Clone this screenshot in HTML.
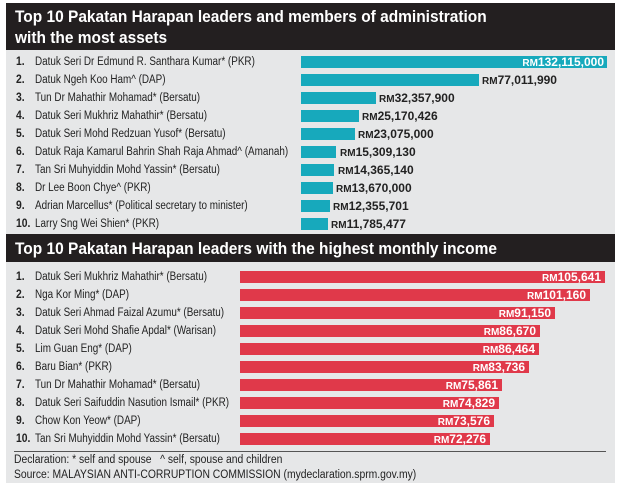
<!DOCTYPE html>
<html><head><meta charset="utf-8"><style>
*{margin:0;padding:0;box-sizing:border-box}
body{width:620px;height:487px;background:#fff;position:relative;overflow:hidden;font-family:"Liberation Sans",sans-serif;color:#222}
.bg{position:absolute;left:6px;top:3px;width:609px;height:480px;background:#e6e7e8}
.hd{position:absolute;left:6px;width:609px;background:#231f20;color:#fff;font-weight:bold;font-size:17px;line-height:21px;padding-left:9px}
.hd span{display:inline-block;transform:scaleX(.91);transform-origin:left;white-space:nowrap}
.r{position:absolute;left:0;height:18px;font-size:11.5px;line-height:18px;width:620px}
.n{position:absolute;left:16px;font-weight:bold;transform:scaleX(.9);transform-origin:left}
.t{position:absolute;left:35px;white-space:nowrap;transform:scaleX(.86);transform-origin:left}
.b{position:absolute;top:3px;height:12px}
.tb{background:#17a9bc}
.rb{background:#e0394a}
.v{position:absolute;top:0;font-weight:bold;font-size:12px;white-space:nowrap}
.v small{font-size:10px;font-weight:bold}
.in{color:#fff;text-align:right}
.f{position:absolute;left:14px;font-size:11.5px;white-space:nowrap;transform:scaleX(.9);transform-origin:left}
</style></head><body>
<div class="bg"></div>
<div class="hd" style="top:3px;height:47px;padding-top:3px"><span>Top 10 Pakatan Harapan leaders and members of administration</span><br><span>with the most assets</span></div>

<div class="r" style="top:53px"><span class="n">1.</span><span class="t">Datuk Seri Dr Edmund R. Santhara Kumar* (PKR)</span><div class="b tb" style="left:301px;width:306px"></div><span class="v in" style="left:301px;width:303px"><small>RM</small>132,115,000</span></div>
<div class="r" style="top:71px"><span class="n">2.</span><span class="t">Datuk Ngeh Koo Ham^ (DAP)</span><div class="b tb" style="left:301px;width:178px"></div><span class="v" style="left:482px"><small>RM</small>77,011,990</span></div>
<div class="r" style="top:89px"><span class="n">3.</span><span class="t">Tun Dr Mahathir Mohamad* (Bersatu)</span><div class="b tb" style="left:301px;width:75px"></div><span class="v" style="left:379px"><small>RM</small>32,357,900</span></div>
<div class="r" style="top:107px"><span class="n">4.</span><span class="t">Datuk Seri Mukhriz Mahathir* (Bersatu)</span><div class="b tb" style="left:301px;width:58px"></div><span class="v" style="left:362px"><small>RM</small>25,170,426</span></div>
<div class="r" style="top:125px"><span class="n">5.</span><span class="t">Datuk Seri Mohd Redzuan Yusof* (Bersatu)</span><div class="b tb" style="left:301px;width:54px"></div><span class="v" style="left:358px"><small>RM</small>23,075,000</span></div>
<div class="r" style="top:143px"><span class="n">6.</span><span class="t">Datuk Raja Kamarul Bahrin Shah Raja Ahmad^ (Amanah)</span><div class="b tb" style="left:301px;width:35px"></div><span class="v" style="left:340px"><small>RM</small>15,309,130</span></div>
<div class="r" style="top:161px"><span class="n">7.</span><span class="t">Tan Sri Muhyiddin Mohd Yassin* (Bersatu)</span><div class="b tb" style="left:301px;width:33px"></div><span class="v" style="left:338px"><small>RM</small>14,365,140</span></div>
<div class="r" style="top:179px"><span class="n">8.</span><span class="t">Dr Lee Boon Chye^ (PKR)</span><div class="b tb" style="left:301px;width:32px"></div><span class="v" style="left:336px"><small>RM</small>13,670,000</span></div>
<div class="r" style="top:197px"><span class="n">9.</span><span class="t">Adrian Marcellus* (Political secretary to minister)</span><div class="b tb" style="left:301px;width:29px"></div><span class="v" style="left:333px"><small>RM</small>12,355,701</span></div>
<div class="r" style="top:215px"><span class="n">10.</span><span class="t">Larry Sng Wei Shien* (PKR)</span><div class="b tb" style="left:301px;width:27px"></div><span class="v" style="left:331px"><small>RM</small>11,785,477</span></div>

<div class="hd" style="top:234px;height:28px;padding-top:4px"><span>Top 10 Pakatan Harapan leaders with the highest monthly income</span></div>

<div class="r" style="top:268px"><span class="n">1.</span><span class="t">Datuk Seri Mukhriz Mahathir* (Bersatu)</span><div class="b rb" style="left:240px;width:365px"></div><span class="v in" style="left:240px;width:361px"><small>RM</small>105,641</span></div>
<div class="r" style="top:286px"><span class="n">2.</span><span class="t">Nga Kor Ming* (DAP)</span><div class="b rb" style="left:240px;width:350px"></div><span class="v in" style="left:240px;width:346px"><small>RM</small>101,160</span></div>
<div class="r" style="top:304px"><span class="n">3.</span><span class="t">Datuk Seri Ahmad Faizal Azumu* (Bersatu)</span><div class="b rb" style="left:240px;width:315px"></div><span class="v in" style="left:240px;width:311px"><small>RM</small>91,150</span></div>
<div class="r" style="top:322px"><span class="n">4.</span><span class="t">Datuk Seri Mohd Shafie Apdal* (Warisan)</span><div class="b rb" style="left:240px;width:300px"></div><span class="v in" style="left:240px;width:296px"><small>RM</small>86,670</span></div>
<div class="r" style="top:340px"><span class="n">5.</span><span class="t">Lim Guan Eng* (DAP)</span><div class="b rb" style="left:240px;width:299px"></div><span class="v in" style="left:240px;width:295px"><small>RM</small>86,464</span></div>
<div class="r" style="top:358px"><span class="n">6.</span><span class="t">Baru Bian* (PKR)</span><div class="b rb" style="left:240px;width:289px"></div><span class="v in" style="left:240px;width:285px"><small>RM</small>83,736</span></div>
<div class="r" style="top:376px"><span class="n">7.</span><span class="t">Tun Dr Mahathir Mohamad* (Bersatu)</span><div class="b rb" style="left:240px;width:262px"></div><span class="v in" style="left:240px;width:258px"><small>RM</small>75,861</span></div>
<div class="r" style="top:394px"><span class="n">8.</span><span class="t">Datuk Seri Saifuddin Nasution Ismail* (PKR)</span><div class="b rb" style="left:240px;width:259px"></div><span class="v in" style="left:240px;width:255px"><small>RM</small>74,829</span></div>
<div class="r" style="top:412px"><span class="n">9.</span><span class="t">Chow Kon Yeow* (DAP)</span><div class="b rb" style="left:240px;width:254px"></div><span class="v in" style="left:240px;width:250px"><small>RM</small>73,576</span></div>
<div class="r" style="top:430px"><span class="n">10.</span><span class="t">Tan Sri Muhyiddin Mohd Yassin* (Bersatu)</span><div class="b rb" style="left:240px;width:250px"></div><span class="v in" style="left:240px;width:246px"><small>RM</small>72,276</span></div>

<div style="position:absolute;left:14px;top:451px;width:592px;height:1px;background:#555"></div>
<div class="f" style="top:454px">Declaration: * self and spouse &nbsp;&nbsp;^ self, spouse and children</div>
<div class="f" style="top:469px">Source: MALAYSIAN ANTI-CORRUPTION COMMISSION (mydeclaration.sprm.gov.my)</div>
</body></html>
